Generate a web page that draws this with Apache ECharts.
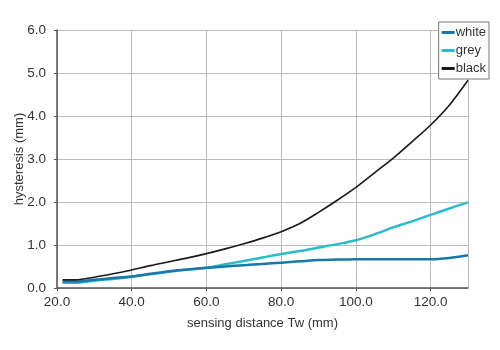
<!DOCTYPE html>
<html>
<head>
<meta charset="utf-8">
<script src="https://cdn.jsdelivr.net/npm/echarts@6/dist/echarts.min.js"></script>
<style>html,body{margin:0;padding:0;background:#fff}#c{width:500px;height:350px}</style>
</head>
<body>
<div id="c"></div>
<script>
var xVals = [21.5, 25, 30, 35, 40, 45, 50, 55, 60, 65, 70, 75, 80, 85, 90, 95, 100, 105, 110, 115, 120, 125, 130];
var whiteVals = [0.15, 0.15, 0.19, 0.23, 0.27, 0.33, 0.39, 0.43, 0.47, 0.50, 0.53, 0.56, 0.59, 0.62, 0.65, 0.66, 0.67, 0.67, 0.67, 0.67, 0.67, 0.70, 0.76];
var greyVals  = [0.12, 0.12, 0.17, 0.21, 0.26, 0.32, 0.38, 0.43, 0.47, 0.55, 0.63, 0.71, 0.79, 0.86, 0.94, 1.02, 1.11, 1.25, 1.41, 1.55, 1.70, 1.85, 1.99];
var blackVals = [0.19, 0.19, 0.25, 0.33, 0.42, 0.52, 0.61, 0.70, 0.80, 0.91, 1.03, 1.16, 1.31, 1.50, 1.76, 2.04, 2.34, 2.68, 3.02, 3.40, 3.79, 4.25, 4.83];
var seriesNames = ['white', 'grey', 'black'];
var yTicks = ['0.0','1.0','2.0','3.0','4.0','5.0','6.0'];
var yAxisTitle = 'hysteresis (mm)';
var xAxisTitle = 'sensing distance Tw (mm)';

function pairs(ys){ return xVals.map(function(x,i){ return [x, ys[i]]; }); }

var chart = echarts.init(document.getElementById('c'), null, {renderer:'canvas'});
var font = 'Liberation Sans, Arial, sans-serif';
chart.setOption({
  animation: false,
  textStyle: {fontFamily: font},
  grid: {left: 57, right: 32, top: 30, bottom: 62, outerBoundsMode: 'none', containLabel: false},
  graphic: [{
    type: 'text', x: 19, y: 159, rotation: Math.PI / 2, silent: true,
    style: {text: yAxisTitle, fill: '#333', font: '13px Liberation Sans, Arial, sans-serif',
            textAlign: 'center', textVerticalAlign: 'middle'}
  }],
  legend: {
    orient: 'vertical', right: 11, top: 22,
    data: seriesNames,
    borderColor: '#777', borderWidth: 1, borderRadius: 0,
    padding: [4, 3, 4, 3],
    itemWidth: 13, itemHeight: 3, itemGap: 5, icon: 'rect',
    backgroundColor: '#fff',
    textStyle: {fontSize: 13, color: '#333', fontFamily: font, padding: [0,0,0,-4]}
  },
  xAxis: {
    type: 'value', min: 20, max: 130, interval: 20,
    name: xAxisTitle, nameLocation: 'middle', nameGap: 29, nameMoveOverlap: false,
    nameTextStyle: {fontSize: 13, color: '#333', fontFamily: font},
    axisLine: {show: true, lineStyle: {color: '#555', width: 1.5}},
    axisTick: {show: true, length: 3, lineStyle: {color: '#555'}},
    axisLabel: {fontSize: 13.5, color: '#333', margin: 7, formatter: function(v){ return v.toFixed(1); },
      showMaxLabel: false},
    splitLine: {show: true, lineStyle: {color: '#bbb', width: 1}}
  },
  yAxis: {
    type: 'value', min: 0, max: 6, interval: 1,
    axisLine: {show: true, lineStyle: {color: '#555', width: 1.5}},
    axisTick: {show: true, length: 3, lineStyle: {color: '#555'}},
    axisLabel: {fontSize: 13.5, color: '#333', margin: 11, formatter: function(v){ return yTicks[Math.round(v)]; }},
    splitLine: {show: true, lineStyle: {color: '#bbb', width: 1}}
  },
  series: [
    {name: 'white', type: 'line', smooth: 0.3, showSymbol: false, data: pairs(whiteVals),
     lineStyle: {color: '#1a78a8', width: 2.5}, itemStyle: {color: '#1a78a8'}, z: 3},
    {name: 'grey', type: 'line', smooth: 0.3, showSymbol: false, data: pairs(greyVals),
     lineStyle: {color: '#2bbccb', width: 2.5}, itemStyle: {color: '#2bbccb'}, z: 2},
    {name: 'black', type: 'line', smooth: 0.3, showSymbol: false, data: pairs(blackVals),
     lineStyle: {color: '#1a1a1a', width: 1.6}, itemStyle: {color: '#1a1a1a'}, z: 4}
  ]
});
</script>
</body>
</html>
